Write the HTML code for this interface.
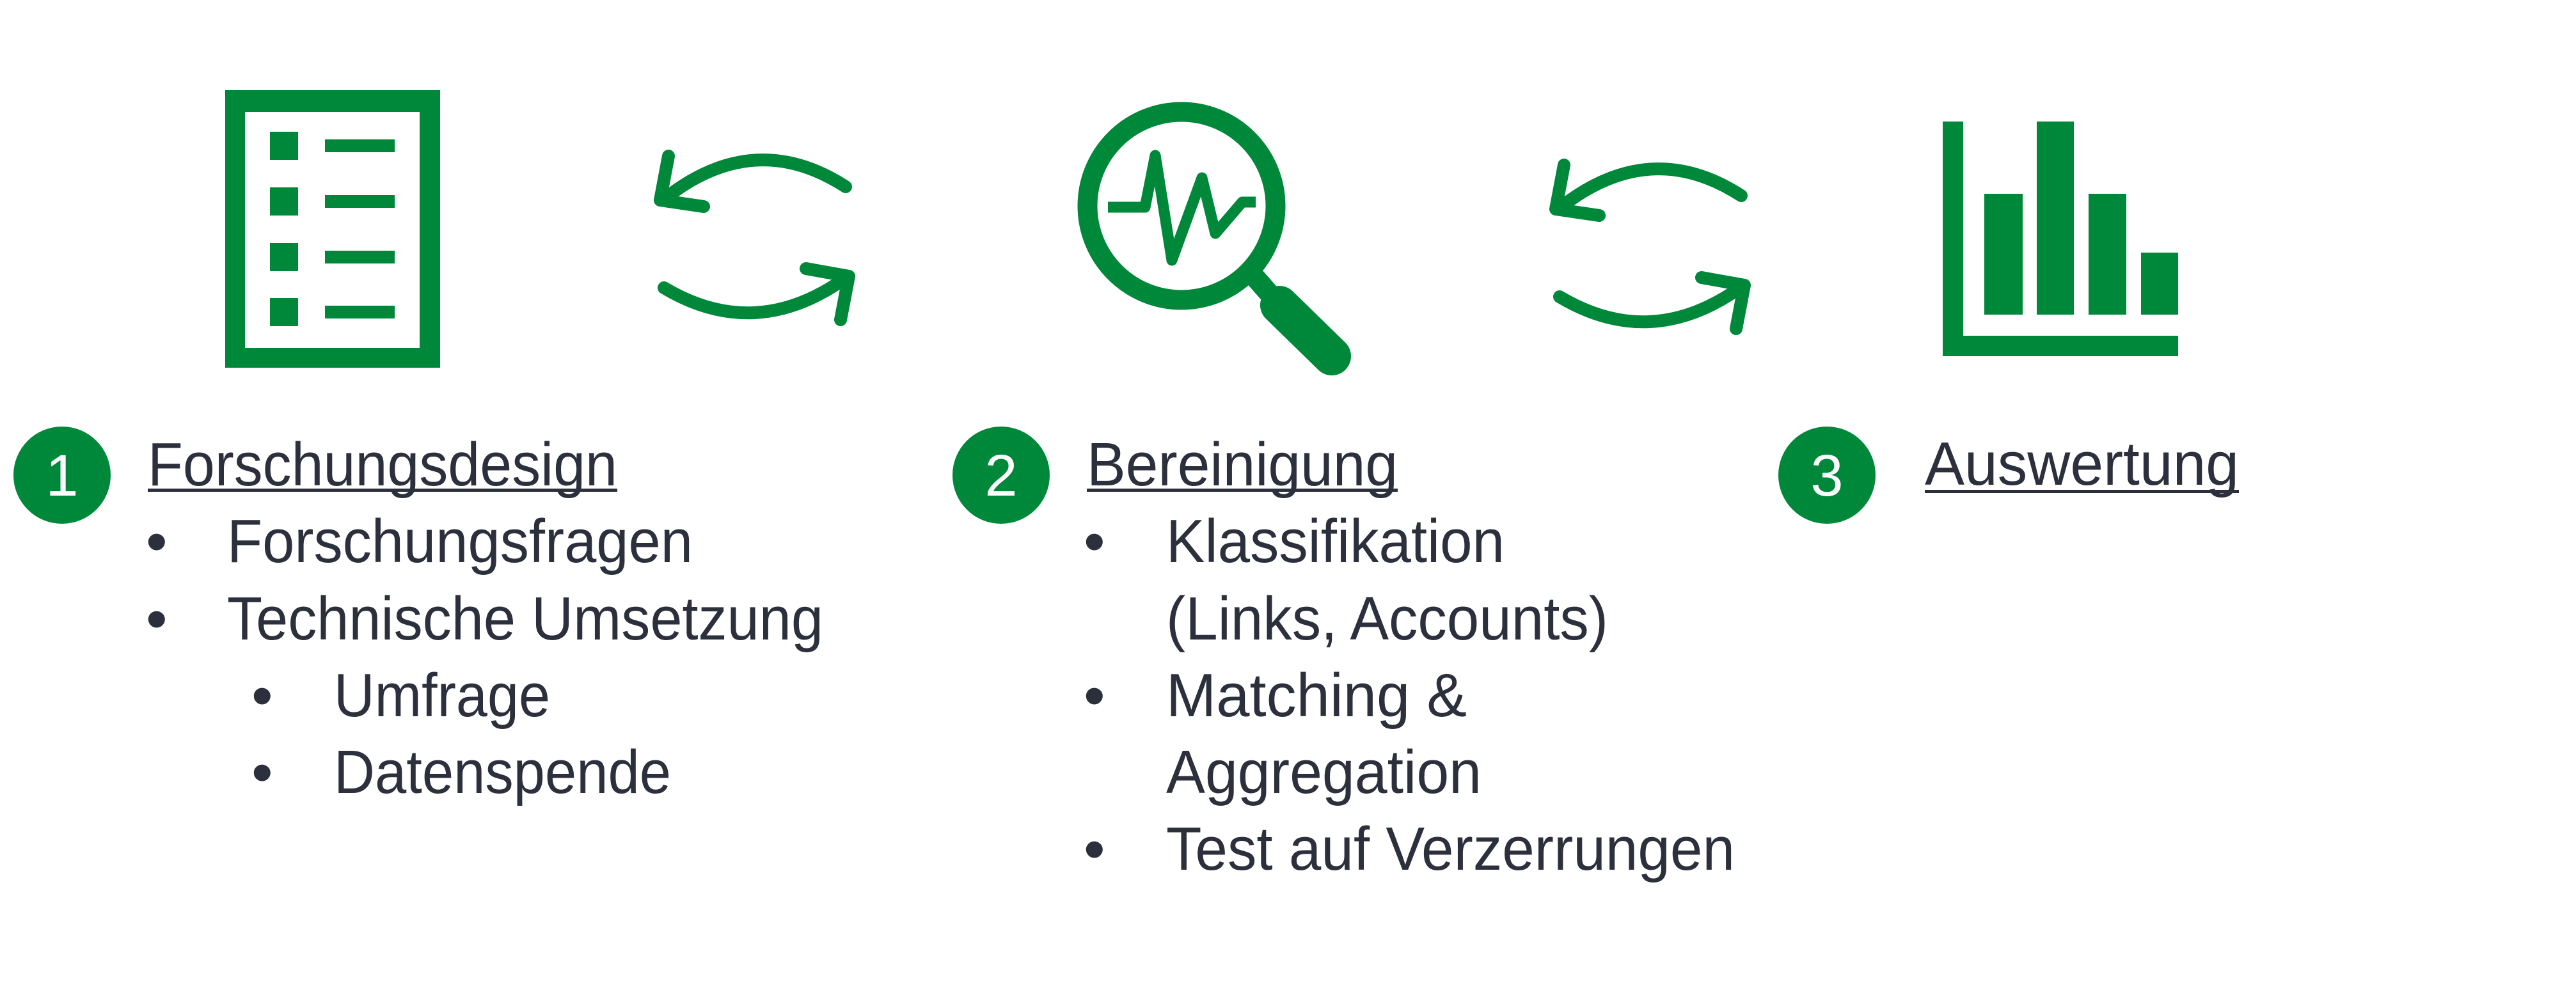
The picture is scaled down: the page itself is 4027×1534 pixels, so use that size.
<!DOCTYPE html>
<html><head><meta charset="utf-8"><style>
html,body{margin:0;padding:0;background:#fff;}
svg{display:block;}
text{font-family:"Liberation Sans Narrow","Liberation Sans",sans-serif;fill:#2b303c;}
</style></head><body>
<svg width="4027" height="1534" viewBox="0 0 4027 1534" xmlns="http://www.w3.org/2000/svg">
<rect width="4027" height="1534" fill="#fff"/>
<g fill="#00883a">
<path d="M352 141H688V575H352Z M383 175V544H656V175Z" fill-rule="evenodd"/>
<rect x="422" y="206" width="44" height="44"/><rect x="508" y="218" width="109" height="20"/>
<rect x="422" y="293" width="44" height="44"/><rect x="508" y="305" width="109" height="20"/>
<rect x="422" y="380" width="44" height="44"/><rect x="508" y="392" width="109" height="20"/>
<rect x="422" y="466" width="44" height="44"/><rect x="508" y="478" width="109" height="20"/>
</g>
<g fill="none" stroke="#00883a" stroke-width="20" stroke-linecap="round" stroke-linejoin="round">
<path d="M1322 292 Q1180 200 1040 310"/><path d="M1045 244 L1032 313 L1100 323"/>
<path d="M1038 450 Q1180 535 1320 436"/><path d="M1260 420 L1327 432 L1314 500"/>
</g>
<g transform="translate(1400,14)" fill="none" stroke="#00883a" stroke-width="20" stroke-linecap="round" stroke-linejoin="round">
<path d="M1322 292 Q1180 200 1040 310"/><path d="M1045 244 L1032 313 L1100 323"/>
<path d="M1038 450 Q1180 535 1320 436"/><path d="M1260 420 L1327 432 L1314 500"/>
</g>
<g>
<circle cx="1847" cy="322" r="147" fill="none" stroke="#00883a" stroke-width="31"/>
<line x1="1950" y1="420" x2="2000" y2="477" stroke="#00883a" stroke-width="32"/>
<line x1="2000" y1="477" x2="2082" y2="557" stroke="#00883a" stroke-width="60" stroke-linecap="round"/>
<polyline points="1732,324 1790,324 1806,243 1832,407 1879,278 1900,365 1942,316 1963,316" fill="none" stroke="#00883a" stroke-width="17" stroke-linejoin="round"/>
</g>
<g fill="#00883a">
<rect x="3037" y="190" width="32" height="367"/><rect x="3037" y="525" width="368" height="32"/>
<rect x="3102" y="303" width="60" height="189"/><rect x="3184" y="190" width="58" height="302"/>
<rect x="3265" y="303" width="59" height="189"/><rect x="3347" y="395" width="58" height="97"/>
</g>
<g><circle cx="97" cy="743" r="76" fill="#00883a"/><text x="97" y="775" text-anchor="middle" font-size="92" style="fill:#fff">1</text></g>
<g><circle cx="1565" cy="743" r="76" fill="#00883a"/><text x="1565" y="775" text-anchor="middle" font-size="92" style="fill:#fff">2</text></g>
<g><circle cx="2856" cy="743" r="76" fill="#00883a"/><text x="2856" y="775" text-anchor="middle" font-size="92" style="fill:#fff">3</text></g>
<g font-size="96">
<text x="231" y="759" textLength="734" lengthAdjust="spacingAndGlyphs">Forschungsdesign</text>
<rect x="231" y="764" width="734" height="5" fill="#2b303c"/>
<text x="228" y="879">•</text>
<text x="355" y="879" textLength="728" lengthAdjust="spacingAndGlyphs">Forschungsfragen</text>
<text x="228" y="1000">•</text>
<text x="355" y="1000" textLength="932" lengthAdjust="spacingAndGlyphs">Technische Umsetzung</text>
<text x="393" y="1120">•</text>
<text x="522" y="1120" textLength="338" lengthAdjust="spacingAndGlyphs">Umfrage</text>
<text x="393" y="1240">•</text>
<text x="522" y="1240" textLength="527" lengthAdjust="spacingAndGlyphs">Datenspende</text>

<text x="1699" y="759" textLength="486" lengthAdjust="spacingAndGlyphs">Bereinigung</text>
<rect x="1699" y="764" width="486" height="5" fill="#2b303c"/>
<text x="1694" y="879">•</text>
<text x="1823" y="879" textLength="529" lengthAdjust="spacingAndGlyphs">Klassifikation</text>
<text x="1823" y="1000" textLength="691" lengthAdjust="spacingAndGlyphs">(Links, Accounts)</text>
<text x="1694" y="1120">•</text>
<text x="1823" y="1120" textLength="470" lengthAdjust="spacingAndGlyphs">Matching &amp;</text>
<text x="1823" y="1240" textLength="493" lengthAdjust="spacingAndGlyphs">Aggregation</text>
<text x="1694" y="1360">•</text>
<text x="1823" y="1360" textLength="889" lengthAdjust="spacingAndGlyphs">Test auf Verzerrungen</text>

<text x="3009" y="758" textLength="491" lengthAdjust="spacingAndGlyphs">Auswertung</text>
<rect x="3009" y="766" width="491" height="5" fill="#2b303c"/>
</g>
</svg>
</body></html>
